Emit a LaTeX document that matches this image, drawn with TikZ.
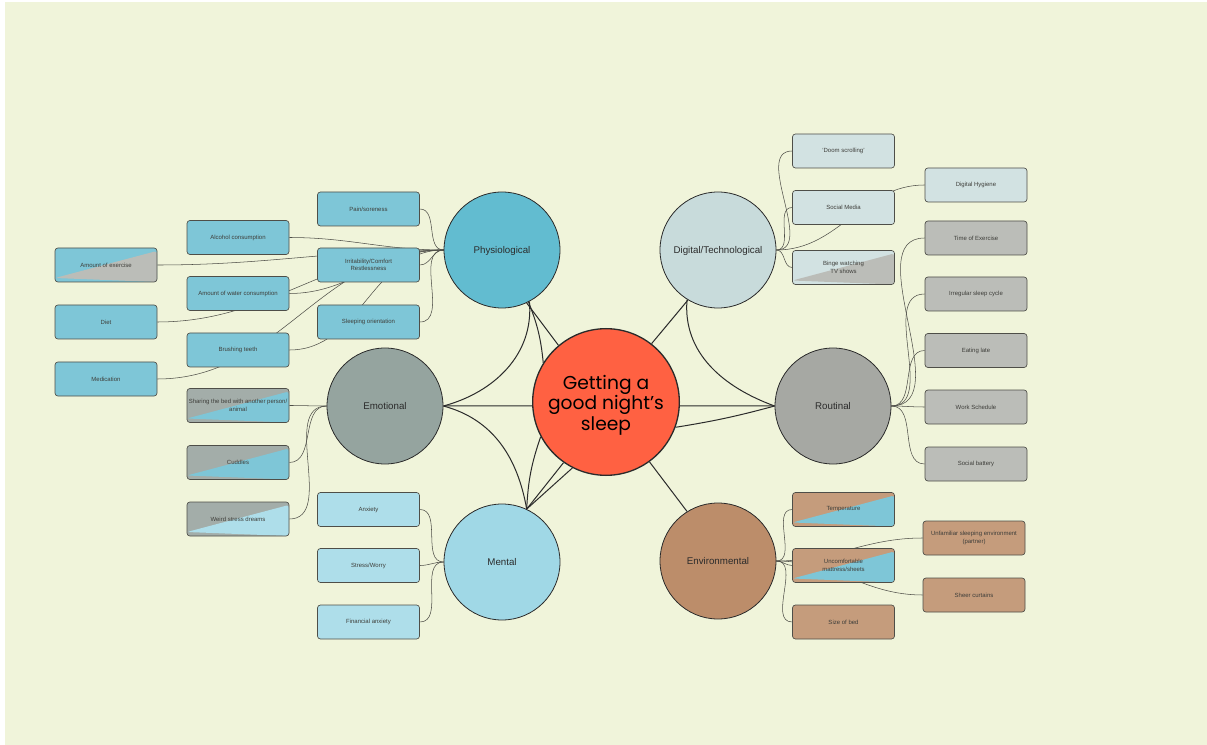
\documentclass[tikz,border=0pt]{standalone}
\usepackage{fontspec}
\setmainfont{Liberation Sans}
\newfontfamily\titlefont{Poppins}
\usetikzlibrary{calc}
\pgfdeclarelayer{paper}
\pgfdeclarelayer{wires}
\pgfsetlayers{paper,wires,main}

\definecolor{bg}{HTML}{F0F4DA}
\definecolor{phyC}{HTML}{62BCD0}
\definecolor{phyB}{HTML}{7EC6D7}
\definecolor{emoC}{HTML}{95A49F}
\definecolor{emoB}{HTML}{A3ADA9}
\definecolor{menC}{HTML}{A0D8E6}
\definecolor{menB}{HTML}{AEDEEA}
\definecolor{digC}{HTML}{C8DBDB}
\definecolor{digB}{HTML}{D2E2E2}
\definecolor{rouC}{HTML}{A6A8A3}
\definecolor{rouB}{HTML}{BBBDB8}
\definecolor{envC}{HTML}{BC8D6A}
\definecolor{envB}{HTML}{C59C7C}
\definecolor{ctrC}{HTML}{FF6142}
\definecolor{ink}{HTML}{2B2B2B}
\definecolor{small}{HTML}{3E3E3A}
\definecolor{edge}{HTML}{4E4E48}

\begin{document}
\begin{tikzpicture}[x=0.75pt,y=-0.75pt,
  hub/.style={circle, draw=ink, line width=0.6pt, minimum size=87pt, inner sep=0pt,
    text depth=0pt, font=\fontsize{7.3}{9}\selectfont, text=ink},
  core/.style={circle, draw=ink, line width=1pt, fill=ctrC, minimum size=110pt, inner sep=0pt},
  coretext/.style={align=center, inner sep=0pt, font=\titlefont\fontsize{14}{15.4}\selectfont, text=black},
  leaf/.style={rectangle, rounded corners=2.2pt, draw=edge, line width=0.5pt,
    minimum width=76.5pt, minimum height=25.5pt, inner sep=0pt, align=center,
    font=\fontsize{4.5}{5.5}\selectfont, text=small},
  halved/.style={path picture={\fill[#1]
      ([yshift=3pt]path picture bounding box.south west) --
      ([yshift=-2.2pt]path picture bounding box.north east) --
      (path picture bounding box.south east) -- cycle;}},
  link/.style={draw=edge, line width=0.4pt},
  tie/.style={draw=ink, line width=0.75pt},
]
\useasboundingbox (0,0) rectangle (1207,745);
\begin{pgfonlayer}{paper}
  \fill[white] (0,0) rectangle (1207,745);
  \fill[bg] (5,2) rectangle (1207,745);
\end{pgfonlayer}

% hubs
\node[core] (ctr) at (606,402) {};
\node[coretext] (ctrtext) at (606,405) {Getting a\\good night’s\\sleep};
\node[hub, fill=phyC] (phy) at (502,250) {Physiological};
\node[hub, fill=emoC] (emo) at (385,406) {Emotional};
\node[hub, fill=menC] (men) at (502,562) {Mental};
\node[hub, fill=digC] (dig) at (718,250) {Digital/Technological};
\node[hub, fill=rouC] (rou) at (833,406) {Routinal};
\node[hub, fill=envC] (env) at (718,561) {Environmental};

% physiological factors
\node[leaf, fill=phyB] (p1) at (368.5,209) {Pain/soreness};
\node[leaf, fill=phyB] (p2) at (238,237.5) {Alcohol consumption};
\node[leaf, fill=phyB] (p3) at (368.5,265) {Irritability/Comfort\\Restlessness};
\node[leaf, fill=phyB, halved=rouB] (p4) at (106,265) {Amount of exercise};
\node[leaf, fill=phyB] (p5) at (238,293.5) {Amount of water consumption};
\node[leaf, fill=phyB] (p6) at (106,322) {Diet};
\node[leaf, fill=phyB] (p7) at (368.5,322) {Sleeping orientation};
\node[leaf, fill=phyB] (p8) at (238,350) {Brushing teeth};
\node[leaf, fill=phyB] (p9) at (106,379) {Medication};

% emotional factors
\node[leaf, fill=emoB, halved=phyB] (e1) at (238,405.5) {Sharing the bed with another person/\\animal};
\node[leaf, fill=emoB, halved=phyB] (e2) at (238,462.5) {Cuddles};
\node[leaf, fill=emoB, halved=menB] (e3) at (238,519) {Weird stress dreams};

% mental factors
\node[leaf, fill=menB] (m1) at (368.5,509.5) {Anxiety};
\node[leaf, fill=menB] (m2) at (368.5,565.5) {Stress/Worry};
\node[leaf, fill=menB] (m3) at (368.5,622) {Financial anxiety};

% digital factors
\node[leaf, fill=digB] (d1) at (843.5,151) {‘Doom scrolling’};
\node[leaf, fill=digB] (d2) at (843.5,207.5) {Social Media};
\node[leaf, fill=digB, halved=rouB] (d3) at (843.5,267.5) {Binge watching\\TV shows};
\node[leaf, fill=digB] (d4) at (976,185) {Digital Hygiene};

% routine factors
\node[leaf, fill=rouB] (r1) at (976,238) {Time of Exercise};
\node[leaf, fill=rouB] (r2) at (976,294) {Irregular sleep cycle};
\node[leaf, fill=rouB] (r3) at (976,350.5) {Eating late};
\node[leaf, fill=rouB] (r4) at (976,407) {Work Schedule};
\node[leaf, fill=rouB] (r5) at (976,464) {Social battery};

% environmental factors
\node[leaf, fill=envB, halved=phyB] (v1) at (843.5,509.5) {Temperature};
\node[leaf, fill=envB, halved=phyB] (v2) at (843.5,565.5) {Uncomfortable\\mattress/sheets};
\node[leaf, fill=envB] (v3) at (843.5,622) {Size of bed};
\node[leaf, fill=envB] (v4) at (974,538) {Unfamiliar sleeping environment\\(partner)};
\node[leaf, fill=envB] (v5) at (974,595) {Sheer curtains};

\begin{pgfonlayer}{wires}
  % hub to hub
  \draw[tie] (phy.-65) -- (ctr.130);
  \draw[tie] (phy.-63) to[bend left=8] (ctr.148);
  \draw[tie] (phy.-62) to[out=-85,in=15] (emo.east);
  \draw[tie] (emo.east) -- (ctr.183);
  \draw[tie] (emo.east) to[out=-15,in=100] (men.65);
  \draw[tie] (men.65) to[bend left=8] (ctr.-152);
  \draw[tie] (men.65) -- (ctr.-125);
  \draw[tie] (men.65) -- (ctr.-117);
  \draw[tie] (dig.-121) -- (ctr.52);
  \draw[tie] (dig.-122) to[out=-95,in=160] (rou.west);
  \draw[tie] (rou.west) -- (ctr.-3);
  \draw[tie] (rou.west) to[bend left=3] (ctr.-20);
  \draw[tie] (ctr.-54) -- (env.122);

  % hub to factors
  \foreach \b in {p1,p2,p3,p4,p5,p6,p7,p8,p9}
    \draw[link] (\b.east) to[out=0,in=180] (phy.west);
  \foreach \b in {e1,e2,e3}
    \draw[link] (\b.east) to[out=0,in=180] (emo.west);
  \foreach \b in {m1,m2,m3}
    \draw[link] (\b.east) to[out=0,in=180] (men.west);
  \foreach \b in {d1,d2,d3,d4}
    \draw[link] (dig.east) to[out=0,in=180] (\b.west);
  \foreach \b in {r1,r2,r3,r4,r5}
    \draw[link] (rou.east) to[out=0,in=180] (\b.west);
  \foreach \b in {v1,v2,v3,v4,v5}
    \draw[link] (env.east) to[out=0,in=180] (\b.west);
\end{pgfonlayer}
\end{tikzpicture}
\end{document}
